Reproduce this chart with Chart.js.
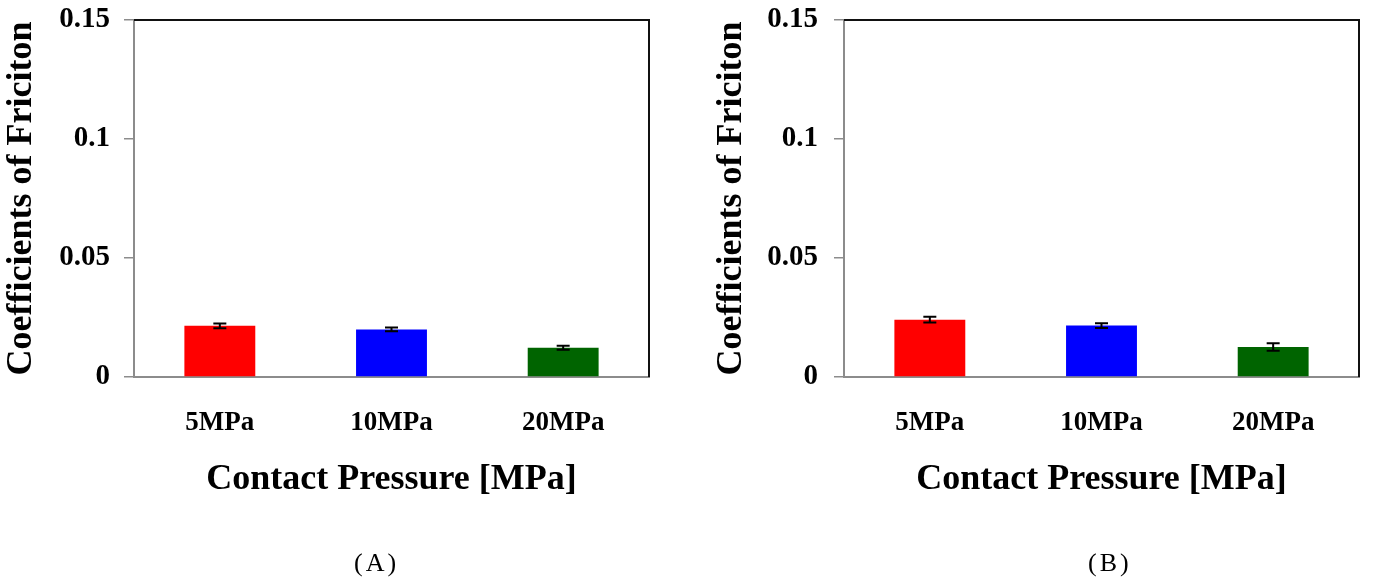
<!DOCTYPE html>
<html>
<head>
<meta charset="utf-8">
<script src="https://cdn.jsdelivr.net/npm/chart.js@4.4.1/dist/chart.umd.min.js"></script>
<style>
body{margin:0;background:#fff;width:1378px;height:588px;position:relative;overflow:hidden;}
canvas{position:absolute;top:0;}
#chartA{left:0;}
#chartB{left:689px;}
.panel{position:absolute;top:548px;font-family:"Liberation Serif",serif;font-size:26px;color:#000;letter-spacing:3px;}
</style>
</head>
<body>
<canvas id="chartA" width="689" height="588"></canvas>
<canvas id="chartB" width="689" height="588"></canvas>
<div class="panel" style="left:354px">(A)</div>
<div class="panel" style="left:1088px">(B)</div>
<script>
const categories = ["5MPa", "10MPa", "20MPa"];
const barColors = ["#ff0000", "#0000ff", "#006400"];
const yTickLabels = ["0", "0.05", "0.1", "0.15"];

// panel A
const valuesA = [0.0215, 0.0200, 0.0123];
const errorsA = [0.0010, 0.0008, 0.0008];
// panel B
const valuesB = [0.0241, 0.0216, 0.0126];
const errorsB = [0.0012, 0.0010, 0.0016];

const serif = "'Liberation Serif', 'Times New Roman', serif";

// error bars drawn from the y scale
const errorBars = {
  id: "errorBars",
  afterDatasetsDraw(chart, args, opts) {
    const ctx = chart.ctx;
    const y = chart.scales.y;
    const meta = chart.getDatasetMeta(0);
    const vals = chart.data.datasets[0].data;
    ctx.save();
    ctx.strokeStyle = "#000";
    ctx.lineWidth = 2;
    meta.data.forEach(function(bar, i) {
      const top = y.getPixelForValue(vals[i] + opts.errors[i]);
      const bot = y.getPixelForValue(vals[i] - opts.errors[i]);
      ctx.beginPath();
      ctx.moveTo(bar.x, top); ctx.lineTo(bar.x, bot);
      ctx.moveTo(bar.x - 6.5, top); ctx.lineTo(bar.x + 6.5, top);
      ctx.moveTo(bar.x - 6.5, bot); ctx.lineTo(bar.x + 6.5, bot);
      ctx.stroke();
    });
    ctx.restore();
  }
};

// black top and right frame
const frame = {
  id: "frame",
  afterDraw(chart) {
    const a = chart.chartArea;
    const ctx = chart.ctx;
    ctx.save();
    ctx.strokeStyle = "#111";
    ctx.lineWidth = 2;
    ctx.beginPath();
    ctx.moveTo(a.left, a.top);
    ctx.lineTo(a.right, a.top);
    ctx.lineTo(a.right, a.bottom);
    ctx.stroke();
    ctx.restore();
  }
};

function makeChart(id, values, errors, axisWidth, rightPad, titleOffset, tickPad) {
  return new Chart(id, {
    type: "bar",
    data: {
      labels: categories,
      datasets: [{
        data: values,
        backgroundColor: barColors,
        barPercentage: 1,
        categoryPercentage: 0.413
      }]
    },
    options: {
      responsive: false,
      animation: false,
      layout: {padding: {top: 20, right: rightPad, left: 0, bottom: 0}},
      plugins: {
        legend: {display: false},
        tooltip: {enabled: false},
        errorBars: {errors: errors}
      },
      scales: {
        x: {
          grid: {display: false, drawTicks: false},
          border: {display: true, color: "#8c8c8c", width: 2},
          ticks: {color: "#000", padding: 30, font: {family: serif, size: 27, weight: "bold"}},
          title: {
            display: true,
            text: "Contact Pressure [MPa]",
            color: "#000",
            font: {family: serif, size: 36, weight: "bold"},
            padding: {top: 0, bottom: 87}
          },
          afterFit: function(s) { s.height = 588 - 377; s.paddingLeft = 0; s.paddingRight = 0; }
        },
        y: {
          min: 0,
          max: 0.15,
          grid: {drawOnChartArea: false, drawTicks: true, tickLength: 10, color: "#8c8c8c", lineWidth: 1.5},
          border: {display: true, color: "#8c8c8c", width: 2},
          ticks: {
            stepSize: 0.05,
            color: "#000",
            padding: tickPad,
            font: {family: serif, size: 29, weight: "bold"},
            callback: function(v) { return yTickLabels[Math.round(v / 0.05)]; }
          },
          title: {
            display: true,
            text: "Coefficients of Friciton",
            color: "#000",
            font: {family: serif, size: 36, weight: "bold"},
            padding: {top: titleOffset - 21.6, bottom: 0}
          },
          afterFit: function(s) { s.width = axisWidth; s.paddingTop = 0; s.paddingBottom = 0; }
        }
      }
    },
    plugins: [errorBars, frame]
  });
}

makeChart("chartA", valuesA, errorsA, 134, 40, 22, 14);
makeChart("chartB", valuesB, errorsB, 155, 19, 43, 16);
</script>
</body>
</html>
